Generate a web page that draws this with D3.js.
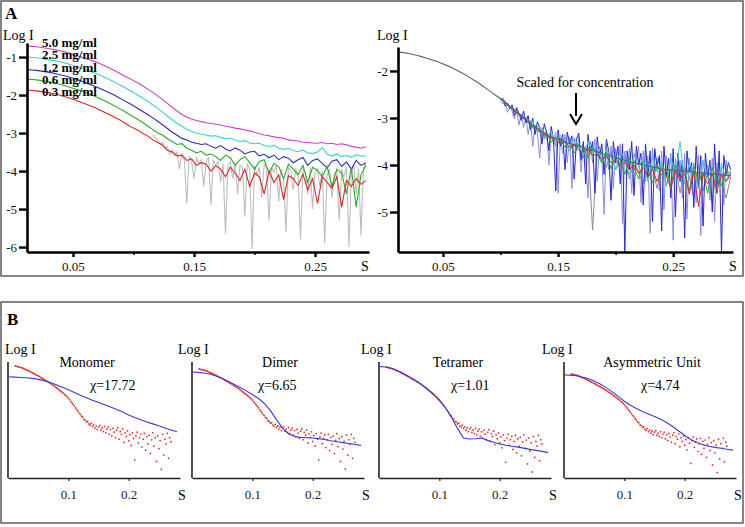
<!DOCTYPE html>
<html><head><meta charset="utf-8">
<script src="https://cdn.jsdelivr.net/npm/d3@7"></script>
<style>
body{margin:0;background:#fff}
text{font-family:"Liberation Serif","Times New Roman",serif}
</style>
</head><body>
<svg id="c" width="745" height="527"></svg>
<script>
// ---------- DATA ----------
// Panel A sampling grids (s values)
const sGridA = d3.range(73).map(i => 0.012 + 0.004 * i);
const sGridGrayL = d3.range(89).map(i => 0.116 + 0.002 * i);
const sGridFineR = d3.range(101).map(i => 0.100 + 0.002 * i);

// Panel A left: concentrations
const concLabels = ["5.0 mg/ml", "2.5 mg/ml", "1.2 mg/ml", "0.6 mg/ml", "0.3 mg/ml"];
const conc50 = [-0.71,-0.72,-0.73,-0.75,-0.77,-0.79,-0.81,-0.84,-0.87,-0.91,-0.95,-0.99,-1.04,-1.08,-1.12,-1.17,-1.23,-1.29,-1.35,-1.42,-1.49,-1.55,-1.62,-1.69,-1.77,-1.85,-1.93,-2.02,-2.12,-2.22,-2.32,-2.42,-2.51,-2.58,-2.63,-2.67,-2.70,-2.73,-2.75,-2.77,-2.79,-2.82,-2.84,-2.87,-2.89,-2.92,-2.95,-2.98,-3.02,-3.05,-3.07,-3.10,-3.12,-3.14,-3.18,-3.20,-3.21,-3.24,-3.25,-3.26,-3.27,-3.25,-3.28,-3.27,-3.30,-3.28,-3.31,-3.35,-3.37,-3.40,-3.36];
const conc25 = [-1.00,-1.01,-1.02,-1.04,-1.06,-1.08,-1.10,-1.13,-1.16,-1.20,-1.24,-1.28,-1.33,-1.37,-1.42,-1.47,-1.53,-1.59,-1.65,-1.72,-1.79,-1.86,-1.93,-2.01,-2.09,-2.17,-2.26,-2.35,-2.45,-2.55,-2.65,-2.74,-2.82,-2.90,-2.96,
 -3.00,-3.03,-3.05,-3.08,-3.07,-3.12,-3.15,-3.13,-3.18,-3.22,-3.20,-3.26,-3.28,-3.27,-3.33,-3.36,-3.32,-3.40,-3.43,-3.40,-3.46,-3.49,-3.45,-3.52,-3.54,-3.50,-3.38,-3.56,-3.60,-3.55,-3.62,-3.59,-3.64,-3.57,-3.61,-3.60];
const conc12 = [-1.33,-1.34,-1.35,-1.37,-1.39,-1.41,-1.44,-1.47,-1.50,-1.54,-1.58,-1.62,-1.67,-1.72,-1.77,-1.82,-1.88,-1.94,-2.00,-2.07,-2.14,-2.21,-2.28,-2.36,-2.44,-2.52,-2.60,-2.69,-2.78,-2.88,-2.98,-3.06,-3.14,-3.18,-3.24,
 -3.27,-3.30,-3.28,-3.35,-3.40,-3.33,-3.42,-3.47,-3.39,-3.45,-3.55,-3.50,-3.48,-3.60,-3.56,-3.65,-3.58,-3.70,-3.62,-3.66,-3.78,-3.70,-3.64,-3.85,-3.72,-3.68,-3.80,-3.92,-3.74,-3.70,-3.88,-3.76,-3.95,-3.72,-3.85,-3.78];
const conc06 = [-1.58,-1.59,-1.60,-1.62,-1.64,-1.66,-1.69,-1.72,-1.76,-1.80,-1.84,-1.88,-1.93,-1.98,-2.03,-2.09,-2.15,-2.21,-2.28,-2.35,-2.42,-2.50,-2.57,-2.65,-2.73,-2.82,-2.91,-3.00,
 -3.05,-3.15,-3.22,-3.30,-3.28,-3.40,-3.45,-3.52,-3.48,-3.58,-3.55,-3.62,-3.72,-3.58,-3.65,-3.85,-3.70,-3.62,-3.78,-3.95,-3.75,-3.70,-4.05,-3.80,-3.88,-4.20,-3.82,-3.95,-4.10,-3.85,-4.30,-3.90,-3.98,-4.15,-3.88,-4.40,-3.95,-4.05,-4.60,-3.92,-4.95,-4.10,-3.85];
const conc03 = [-1.87,-1.88,-1.89,-1.91,-1.93,-1.95,-1.98,-2.01,-2.05,-2.09,-2.13,-2.18,-2.23,-2.28,-2.33,-2.39,-2.45,-2.51,-2.58,-2.64,-2.72,-2.80,
 -2.87,-2.93,-3.02,-3.08,-3.18,-3.25,-3.32,-3.45,-3.50,-3.60,-3.58,-3.72,-3.68,-3.85,-3.78,-3.82,-4.00,-3.86,-3.95,-4.15,-3.90,-4.05,-4.25,-3.95,-4.40,-4.05,-4.15,-4.60,-4.00,-4.30,-4.10,-4.75,-4.12,-4.20,-4.38,-4.08,-4.50,-4.20,-4.85,-4.15,-4.30,-4.45,-4.15,-4.95,-4.25,-4.40,-4.20,-4.35,-4.25];
// gray noisy trace, s = 0.116 .. 0.292
const grayLeft = [-3.05,-3.12,-3.20,-3.28,-3.25,-3.40,-3.35,-3.55,-3.45,-3.60,
 -3.50,-3.95,-3.55,-3.70,-4.85,-3.60,-3.75,-4.20,-3.65,-3.80,
 -3.70,-4.40,-3.75,-3.65,-4.90,-3.70,-3.85,-3.75,-4.30,-3.80,
 -5.65,-3.85,-3.75,-4.20,-3.80,-4.60,-3.85,-3.90,-5.20,-3.80,
 -3.95,-6.05,-3.85,-4.10,-3.90,-4.70,-3.80,-3.95,-5.30,-3.90,
 -4.05,-3.85,-4.80,-3.95,-4.20,-5.60,-3.90,-4.00,-4.50,-3.95,
 -4.10,-5.80,-3.95,-4.05,-4.60,-3.90,-5.00,-4.05,-3.95,-4.40,
 -4.00,-5.90,-4.10,-3.95,-4.70,-4.05,-4.00,-5.30,-3.95,-4.15,
 -3.90,-6.00,-4.05,-3.85,-4.60,-3.95,-5.70,-3.90,-3.80];
const leftYTicks = [-1,-2,-3,-4,-5,-6];
const xTicksA = [0.05, 0.1, 0.15, 0.2, 0.25];
const xTickLabelsA = ["0.05", "", "0.15", "", "0.25"];

// Panel A right: scaled for concentration
const scaledMean = [-1.60,-1.61,-1.63,-1.65,-1.67,-1.70,-1.73,-1.76,-1.79,-1.83,-1.87,-1.91,-1.96,-2.01,-2.06,-2.12,-2.18,-2.24,-2.31,-2.38,-2.45,-2.52,-2.59,-2.67,-2.75,-2.83,-2.91,-2.99,-3.07,-3.15,-3.22,-3.29,-3.35,-3.40,-3.44,-3.48,-3.51,-3.54,-3.57,-3.60,-3.63,-3.66,-3.69,-3.72,-3.75,-3.78,-3.81,-3.84,-3.87,-3.90,-3.93,-3.95,-3.98,-4.00,-4.02,-4.04,-4.06,-4.08,-4.09,-4.10,-4.11,-4.12,-4.13,-4.14,-4.15,-4.16,-4.17,-4.18,-4.19,-4.20,-4.21,-4.22,-4.22];
const noiseStart = 22; // coarse noisy traces start at s = 0.100
// fine-sampled (s = 0.100 .. 0.300)
const scaledBlue = [-2.62,-2.58,-2.75,-2.68,-2.80,-2.72,-2.95,-2.78,-2.90,-3.05,
 -2.85,-3.10,-2.95,-3.25,-3.00,-3.35,-3.08,-3.20,-3.55,-3.12,
 -3.30,-3.70,-3.18,-3.45,-4.55,-3.25,-3.60,-3.35,-4.10,-3.30,
 -3.55,-3.38,-4.30,-3.45,-3.32,-3.90,-3.50,-4.40,-3.35,-3.75,
 -3.50,-4.60,-3.40,-3.85,-3.55,-4.20,-3.45,-3.70,-4.75,-3.50,
 -3.95,-3.60,-4.40,-3.55,-5.85,-3.70,-4.10,-3.50,-4.65,-3.60,
 -4.00,-3.75,-4.85,-3.55,-4.30,-3.70,-5.20,-3.65,-4.05,-3.80,
 -5.40,-3.60,-4.25,-3.85,-4.70,-3.65,-5.10,-3.75,-4.35,-3.90,
 -5.55,-3.70,-4.15,-3.95,-4.90,-3.60,-4.50,-3.80,-5.30,-3.75,
 -4.30,-3.90,-5.00,-3.55,-4.60,-3.70,-5.85,-3.80,-4.20,-3.95,-4.10];
const scaledLavender = [-2.66,-2.70,-2.62,-2.88,-2.76,-2.85,-3.02,-2.82,-3.15,-2.92,
 -3.20,-2.98,-3.35,-3.05,-3.60,-3.15,-3.30,-3.85,-3.22,-3.45,
 -3.25,-4.00,-3.35,-3.55,-3.30,-4.60,-3.40,-3.75,-3.35,-3.95,
 -3.40,-4.50,-3.45,-3.70,-3.40,-4.15,-3.55,-3.85,-4.70,-3.50,
 -3.95,-3.45,-4.35,-3.60,-3.75,-5.05,-3.55,-4.10,-3.60,-4.50,
 -3.65,-4.00,-3.55,-5.25,-3.70,-4.20,-3.65,-4.60,-3.75,-3.90,
 -3.60,-4.80,-3.70,-4.35,-3.80,-5.45,-3.65,-4.10,-3.85,-4.55,
 -3.70,-4.95,-3.80,-4.25,-3.75,-5.60,-3.85,-4.30,-3.90,-4.70,
 -3.75,-5.15,-3.85,-4.40,-3.95,-4.80,-3.80,-5.50,-3.90,-4.25,
 -4.00,-4.75,-3.85,-5.20,-3.95,-4.40,-4.05,-4.85,-3.90,-4.30,-4.15];
// coarse-sampled (s = 0.100 .. 0.300, step 0.004)
const scaledGray = [-2.60,-2.68,-2.78,-2.84,-2.95,-3.00,-3.12,-3.20,-3.30,-3.28,-3.45,-3.38,-3.60,-3.42,-3.52,-3.70,-3.55,-3.62,-3.85,-3.60,-5.38,-3.70,-3.90,-4.05,-3.72,-4.10,-3.95,-3.80,-4.30,-3.90,-4.15,-4.40,-3.92,-4.05,-4.50,-3.98,-4.45,-4.10,-4.00,-4.60,-4.05,-4.25,-4.70,-4.00,-4.55,-4.15,-4.80,-4.05,-4.40,-4.70,-4.25];
const scaledCyan = [-2.58,-2.66,-2.78,-2.80,-2.95,-2.96,-3.10,-3.08,-3.30,-3.20,-3.42,-3.28,-3.55,-3.36,-3.48,-3.70,-3.42,-3.60,-3.80,-3.50,-3.75,-3.58,-3.95,-3.65,-3.82,-4.10,-3.70,-3.88,-4.20,-3.78,-4.05,-3.85,-4.35,-3.80,-4.15,-3.92,-4.45,-3.85,-4.20,-3.50,-4.40,-3.95,-4.15,-4.50,-3.90,-4.30,-4.05,-4.55,-3.95,-4.35,-4.10];
const scaledGreen = [-2.60,-2.67,-2.76,-2.85,-2.90,-3.02,-3.05,-3.20,-3.18,-3.38,-3.30,-3.52,-3.40,-3.46,-3.62,-3.50,-3.75,-3.55,-3.66,-3.85,-3.62,-3.78,-3.95,-3.72,-4.08,-3.80,-3.90,-4.20,-3.85,-4.05,-4.30,-3.92,-4.12,-4.38,-3.98,-4.22,-4.05,-4.45,-4.00,-4.30,-4.10,-4.55,-4.02,-4.35,-4.15,-4.60,-4.05,-4.30,-4.45,-4.10,-4.20];
const scaledRed = [-2.59,-2.68,-2.74,-2.86,-2.92,-3.00,-3.08,-3.16,-3.25,-3.30,-3.38,-3.42,-3.48,-3.55,-3.50,-3.62,-3.58,-3.68,-3.72,-3.66,-3.80,-3.76,-3.88,-3.82,-3.95,-3.90,-4.02,-3.94,-4.10,-4.00,-4.18,-4.05,-4.25,-4.08,-4.35,-4.10,-4.22,-4.50,-4.12,-4.30,-4.18,-4.62,-4.15,-4.88,-4.20,-4.40,-4.18,-4.55,-4.22,-4.35,-4.20];
const rightYTicks = [-2,-3,-4,-5];
const annotation = "Scaled for concentration";

// Panel B: experimental data (shared) and model fits
const sGridB = d3.range(130).map(i => 0.012 + 0.002 * i);
const expLogI = [-1.60,-1.61,-1.62,-1.63,-1.64,-1.65,-1.66,-1.68,-1.70,-1.72,-1.73,-1.75,-1.77,-1.79,-1.81,-1.83,-1.85,-1.87,-1.89,-1.91,-1.93,-1.96,-1.98,-2.00,-2.02,-2.05,-2.07,-2.09,-2.12,-2.14,-2.17,-2.20,-2.22,-2.25,-2.28,-2.31,-2.34,-2.37,-2.40,-2.43,-2.46,-2.50,-2.53,-2.57,-2.61,-2.66,-2.71,-2.76,-2.81,-2.86,-2.92,-2.97,-3.02,-3.08,-3.12,-3.18,-3.21,-3.28,-3.30,-3.36,-3.34,-3.42,-3.46,-3.40,-3.50,-3.45,-3.55,-3.48,-3.60,-3.52,-3.47,-3.62,-3.55,-3.66,-3.50,-3.70,-3.58,-3.52,-3.74,-3.60,-3.80,-3.56,-3.68,-3.85,-3.62,-3.54,-3.90,-3.66,-3.75,-3.58,-4.00,-3.70,-3.82,-3.64,-3.95,-3.76,-4.10,-3.70,-3.88,-4.55,-3.80,-3.68,-4.02,-3.85,-3.74,-4.15,-3.90,-3.72,-4.25,-3.82,-4.05,-3.78,-4.35,-3.92,-3.70,-4.12,-3.86,-4.60,-3.80,-4.20,-3.95,-4.85,-3.75,-4.40,-3.90,-4.05,-3.72,-4.50,-3.85,-3.98];
const sGridFit = d3.range(29).map(i => 0.01 * i);
const models = ["Monomer", "Dimer", "Tetramer", "Asymmetric Unit"];
const chiValues = ["17.72", "6.65", "1.01", "4.74"];
const fitMonomer = [-1.94,-1.95,-1.96,-1.97,-1.99,-2.02,-2.06,-2.12,-2.19,-2.27,-2.35,-2.43,-2.52,-2.60,-2.68,-2.75,-2.82,-2.89,-2.97,-3.05,-3.14,-3.22,-3.29,-3.36,-3.42,-3.48,-3.55,-3.61,-3.67];
const fitDimer = [-1.70,-1.71,-1.73,-1.77,-1.83,-1.91,-2.00,-2.10,-2.20,-2.31,-2.43,-2.56,-2.72,-2.95,-3.25,-3.52,-3.70,-3.79,-3.82,-3.83,-3.84,-3.86,-3.89,-3.93,-3.96,-3.99,-4.02,-4.05,-4.08];
const fitTetramer = [-1.58,-1.60,-1.64,-1.71,-1.80,-1.90,-2.01,-2.13,-2.28,-2.45,-2.64,-2.86,-3.15,-3.50,-3.80,-3.83,-3.82,-3.80,-3.87,-3.93,-3.98,-4.02,-4.05,-4.08,-4.11,-4.15,-4.18,-4.21,-4.25];
const fitAsym = [-1.63,-1.64,-1.66,-1.70,-1.75,-1.83,-1.93,-2.05,-2.19,-2.34,-2.50,-2.63,-2.74,-2.84,-2.92,-3.00,-3.09,-3.20,-3.33,-3.48,-3.63,-3.76,-3.86,-3.93,-3.98,-4.02,-4.05,-4.08,-4.11];
const fits = [fitMonomer, fitDimer, fitTetramer, fitAsym];
const xTicksB = [0.1, 0.2];

// ---------- DRAW ----------
const svg = d3.select("#c");
svg.append("rect").attr("x",1).attr("y",1).attr("width",742).attr("height",275)
  .attr("fill","#fff").attr("stroke","#666").attr("stroke-width",1.6);
svg.append("rect").attr("x",1).attr("y",302).attr("width",742).attr("height",221)
  .attr("fill","#fff").attr("stroke","#666").attr("stroke-width",1.6);
svg.append("text").attr("x",5).attr("y",19).attr("font-size",17).attr("font-weight","bold").text("A");
svg.append("text").attr("x",7).attr("y",325).attr("font-size",17).attr("font-weight","bold").text("B");

function styleAxisA(g){
  g.select(".domain").attr("stroke","#000").attr("stroke-width",2.6);
  g.selectAll(".tick line").attr("stroke","#000").attr("stroke-width",2.4);
  g.selectAll(".tick text").attr("font-size",13).attr("fill","#111")
    .attr("font-family",'"Liberation Serif","Times New Roman",serif');
}

function drawPanelA(xs, ys, yTicks, xEnd){
  const gy = svg.append("g").attr("transform",`translate(${xs.range()[0]},0)`)
    .call(d3.axisLeft(ys).tickValues(yTicks).tickSize(8).tickSizeOuter(0).tickPadding(2).tickFormat(d => String(d)));
  styleAxisA(gy);
  const gx = svg.append("g").attr("transform",`translate(0,${ys.range()[1]})`)
    .call(d3.axisBottom(xs).tickValues(xTicksA).tickSize(5).tickSizeOuter(0).tickPadding(5)
      .tickFormat((d,i) => xTickLabelsA[i]));
  styleAxisA(gx);
  gx.selectAll(".tick line").filter((d,i) => xTickLabelsA[i] === "").attr("y2",3).attr("stroke-width",1.5);
  svg.append("text").attr("x",xEnd).attr("y",271).attr("font-size",14).attr("text-anchor","middle").text("S");
}

// Left panel
const xL = d3.scaleLinear().domain([0.012, 0.2946]).range([27, 369]);
const yL = d3.scaleLinear().domain([-0.63, -6.13]).range([43, 252]);
const lineL = d3.line().x((d,i) => xL(sGridA[i])).y(d => yL(d));
svg.append("path").attr("d", d3.line().x((d,i) => xL(sGridGrayL[i])).y(d => yL(d))(grayLeft))
  .attr("fill","none").attr("stroke","#bdbdbd").attr("stroke-width",1.1);
const leftSeries = [conc50, conc25, conc12, conc06, conc03];
const leftColors = ["#cc3fcc", "#3fcfcf", "#2b2bc0", "#22b022", "#e02424"];
leftSeries.forEach((vals, k) => {
  svg.append("path").attr("d", lineL(vals)).attr("fill","none").attr("stroke",leftColors[k]).attr("stroke-width",1.1);
});
drawPanelA(xL, yL, leftYTicks, 365);
svg.append("text").attr("x",3).attr("y",40).attr("font-size",14).text("Log I");
const legendY = [47, 59, 72, 84, 96];
concLabels.forEach((t,k) => {
  svg.append("text").attr("x",42).attr("y",legendY[k]).attr("font-size",13).attr("font-weight","bold").text(t);
});

// Right panel
const xR = d3.scaleLinear().domain([0.0109, 0.302]).range([398, 733]);
const yR = d3.scaleLinear().domain([-1.49, -5.85]).range([47, 252]);
const lineR = d3.line().x((d,i) => xR(sGridA[i])).y(d => yR(d));
const lineRn = d3.line().x((d,i) => xR(sGridA[i + noiseStart])).y(d => yR(d));
const lineRf = d3.line().x((d,i) => xR(sGridFineR[i])).y(d => yR(d));
svg.append("path").attr("d", lineRf(scaledLavender)).attr("fill","none").attr("stroke","#8c8ce4").attr("stroke-width",1);
svg.append("path").attr("d", lineRn(scaledGray)).attr("fill","none").attr("stroke","#8a8a8a").attr("stroke-width",1);
svg.append("path").attr("d", lineRf(scaledBlue)).attr("fill","none").attr("stroke","#2626e0").attr("stroke-width",1);
const rightNoisy = [
  [scaledCyan, "#3fd0d0"],
  [scaledGreen, "#22b022"],
  [scaledRed, "#e02424"]
];
rightNoisy.forEach(([vals, col]) => {
  svg.append("path").attr("d", lineRn(vals)).attr("fill","none").attr("stroke",col).attr("stroke-width",1);
});
svg.append("path").attr("d", lineR(scaledMean)).attr("fill","none").attr("stroke","#5a6478").attr("stroke-width",1.1);
drawPanelA(xR, yR, rightYTicks, 733);
svg.append("text").attr("x",377).attr("y",40).attr("font-size",14).text("Log I");
svg.append("text").attr("x",585).attr("y",87).attr("font-size",14).attr("text-anchor","middle").text(annotation);
svg.append("line").attr("x1",576).attr("y1",93).attr("x2",576).attr("y2",116).attr("stroke","#000").attr("stroke-width",2);
svg.append("path").attr("d","M570,114 L576,124 L582,114").attr("fill","none").attr("stroke","#000").attr("stroke-width",2);

// Panel B
const bX0 = [8, 192, 379, 564];
const bDomains = [[-5.122,-1.474],[-5.139,-1.373],[-5.035,-1.445],[-5.03,-1.204]];
const logIX = [5, 178, 361, 542];
const titleX = [87, 280, 458, 652];
const chiX = [90, 258, 451, 641];
models.forEach((name, m) => {
  const x = d3.scaleLinear().domain([0, 0.285]).range([bX0[m], bX0[m] + 172]);
  const y = d3.scaleLinear().domain(bDomains[m]).range([478, 362]);
  const g = svg.append("g");
  g.append("line").attr("x1",bX0[m]).attr("x2",bX0[m]).attr("y1",362).attr("y2",478).attr("stroke","#222").attr("stroke-width",1.6);
  const gx = g.append("g").attr("transform","translate(0,478)")
    .call(d3.axisBottom(x).tickValues(xTicksB).tickSize(3).tickSizeOuter(0).tickPadding(9).tickFormat(d3.format(".1f")));
  gx.select(".domain").attr("stroke","#222").attr("stroke-width",1.6);
  gx.selectAll(".tick line").attr("stroke","#222").attr("stroke-width",1.2);
  gx.selectAll(".tick text").attr("font-size",13).attr("fill","#222")
    .attr("font-family",'"Liberation Serif","Times New Roman",serif');
  g.append("text").attr("x",bX0[m] + 174).attr("y",500).attr("font-size",14).attr("text-anchor","middle").text("S");
  g.selectAll("circle").data(expLogI).join("circle")
    .attr("cx",(d,i) => x(sGridB[i])).attr("cy",d => y(d)).attr("r",0.9).attr("fill","#e23030");
  g.append("path").attr("d", d3.line().x((d,i) => x(sGridFit[i])).y(d => y(d))(fits[m]))
    .attr("fill","none").attr("stroke","#3b3bd6").attr("stroke-width",1.1);
  g.append("text").attr("x",logIX[m]).attr("y",354).attr("font-size",14).text("Log I");
  g.append("text").attr("x",titleX[m]).attr("y",367).attr("font-size",14).attr("text-anchor","middle").text(name);
  g.append("text").attr("x",chiX[m]).attr("y",390).attr("font-size",14).text("χ=" + chiValues[m]);
});
</script>
</body></html>
